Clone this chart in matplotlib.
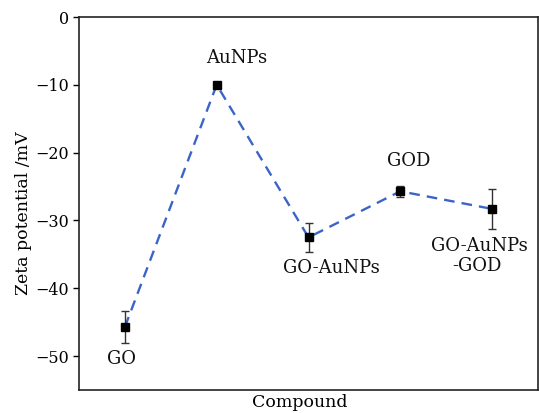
import matplotlib
matplotlib.use("Agg")
import matplotlib.pyplot as plt

compounds = ["GO", "AuNPs", "GO-AuNPs", "GOD", "GO-AuNPs\n-GOD"]
zeta = [-45.7, -10.0, -32.5, -25.7, -28.3]
err = [2.3, 0.0, 2.1, 0.8, 2.9]
yticks = [0, -10, -20, -30, -40, -50]
ytick_labels = ["0", "\u221210", "\u221220", "\u221230", "\u221240", "\u221250"]

plt.rcParams['font.family'] = ['DejaVu Serif']
fig = plt.figure(figsize=(5.39, 4.13), dpi=100)
ax = fig.add_axes([79/539, 1-390/413, (538-79)/539, (390-17)/413])

x = list(range(1, len(compounds)+1))
ax.plot(x, zeta, linestyle=(0, (4.5, 3)), color="#3c64c8", lw=1.7, zorder=2)
ax.errorbar(x, zeta, yerr=err, fmt="none", ecolor="#333333", elinewidth=1.0,
            capsize=3, capthick=1.0, zorder=3)
ax.plot(x, zeta, "s", color="black", ms=6, zorder=4)

# label offsets in pixels (dx, dy of first-line baseline), line step in pixels
label_offsets = [(-3, -37), (20, 22), (23, -36), (8, 25), (-13, -42)]
line_step = 20
for xi, yi, lab, (dx, dy) in zip(x, zeta, compounds, label_offsets):
    for k, line in enumerate(lab.split("\n")):
        ax.annotate(line, (xi, yi), xytext=(dx - (2 if k else 0), dy - k*line_step),
                    textcoords="offset pixels", ha="center", va="baseline",
                    fontsize=13, color="#111111")

ax.set_xlim(0.5, 5.5)
ax.set_ylim(-55, 0)
ax.set_xticks([])
ax.set_yticks(yticks)
ax.set_yticklabels(ytick_labels, fontsize=11.5)
ax.tick_params(axis="y", direction="out", length=4, width=1, pad=3)
for s in ax.spines.values():
    s.set_linewidth(1.2)
    s.set_color("#222222")
ax.set_ylabel("Zeta potential /mV", fontsize=12.5)
ax.yaxis.set_label_coords(-0.103, 0.473, transform=ax.transAxes)
ax.set_xlabel("Compound", fontsize=12.5)
ax.xaxis.set_label_coords(0.48, -0.012, transform=ax.transAxes)
ax.xaxis.label.set_va("top")
fig.savefig("out.png", dpi=100)
